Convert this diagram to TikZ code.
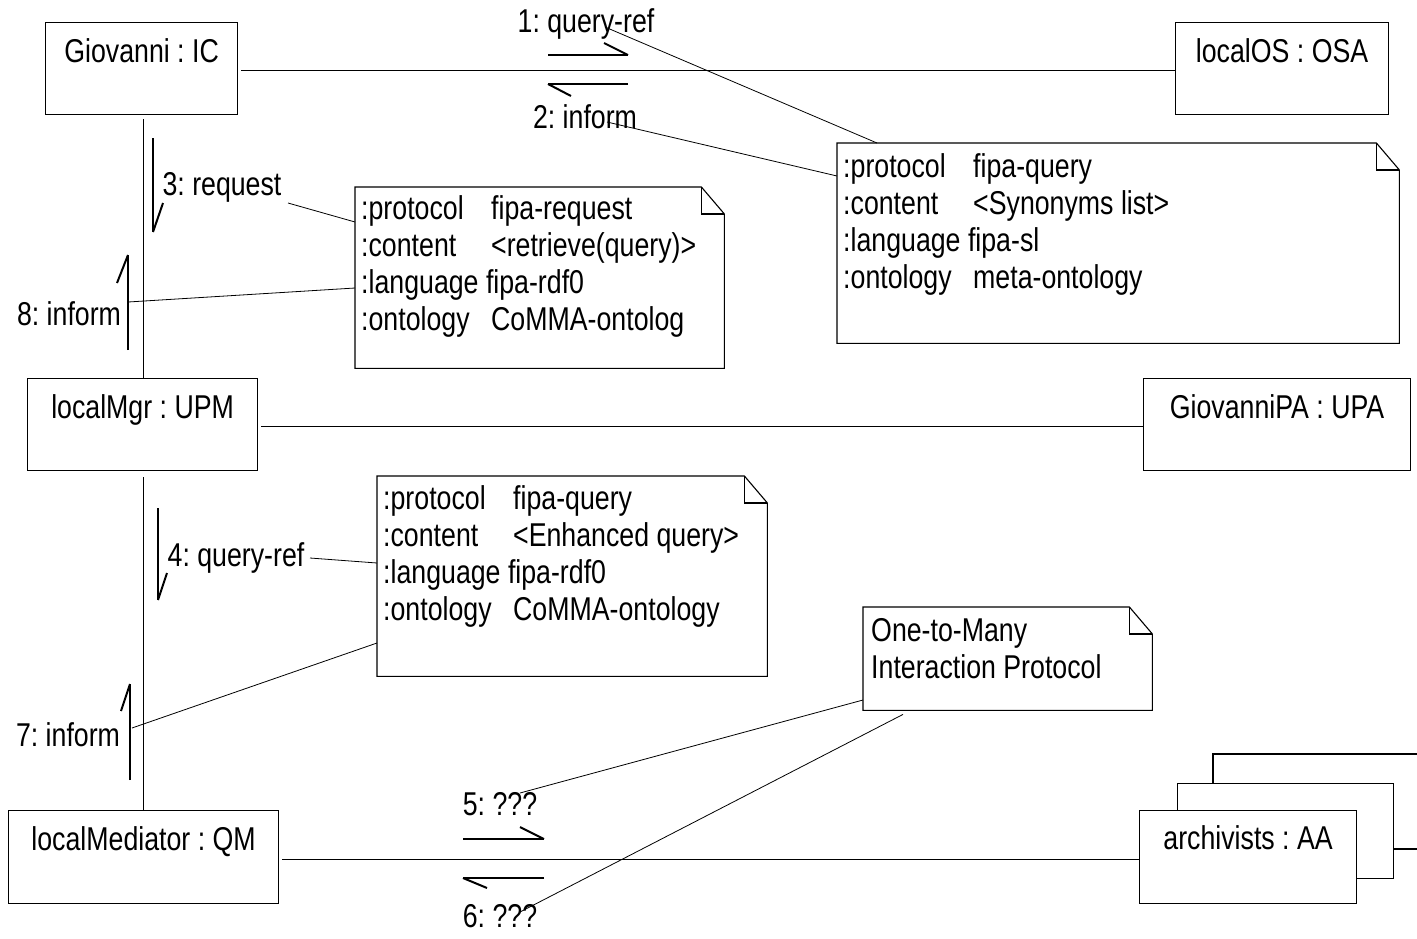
\documentclass[tikz,border=0pt]{standalone}
\usepackage{fontspec}
\setmainfont{Liberation Sans}
\usepackage{graphicx}
\frenchspacing
\newcommand{\sqz}[1]{\scalebox{0.81}[1]{#1}}
\newcommand{\ntl}[2]{\makebox[160.5pt][l]{#1}#2}
\newcommand{\drawnote}[1]{%
  \draw[notel] (#1.north west) -- ([xshift=-23pt]#1.north east) -- ([yshift=-27pt]#1.north east) -- (#1.south east) -- (#1.south west) -- cycle;
  \draw[notel] ([xshift=-23pt]#1.north east) |- ([yshift=-27pt]#1.north east);}
\begin{document}
\frenchspacing
\begin{tikzpicture}[x=1pt,y=-1pt,
  objbox/.style={draw, line width=1.2pt, fill=white, inner sep=0pt, anchor=north west},
  notebody/.style={inner sep=0pt, anchor=north west},
  notel/.style={line width=1.1pt},
  txt/.style={inner sep=0pt, font=\fontsize{33}{37}\selectfont\frenchspacing},
  link/.style={line width=1.2pt},
  thinl/.style={line width=0.8pt},
  msg/.style={line width=1.3pt},
  barb/.style={line width=2pt}]
\useasboundingbox (0,0) rectangle (1417,938);

% objects
\node[objbox, minimum width=192pt, minimum height=92pt] (gio) at (45,22) {};
\node[txt, anchor=base] (giot) at ([yshift=-40pt]gio.north) {\sqz{Giovanni : IC}};
\node[objbox, minimum width=213pt, minimum height=92pt] (los) at (1175,22) {};
\node[txt, anchor=base] (lost) at ([yshift=-40pt]los.north) {\sqz{localOS : OSA}};
\node[objbox, minimum width=230pt, minimum height=92pt] (mgr) at (27,378) {};
\node[txt, anchor=base] (mgrt) at ([yshift=-40pt]mgr.north) {\sqz{localMgr : UPM}};
\node[objbox, minimum width=267pt, minimum height=92pt] (gpa) at (1143,378) {};
\node[txt, anchor=base] (gpat) at ([yshift=-40pt]gpa.north) {\sqz{GiovanniPA : UPA}};
\node[objbox, minimum width=270pt, minimum height=93pt] (med) at (8,810) {};
\node[txt, anchor=base] (medt) at ([yshift=-40pt]med.north) {\sqz{localMediator : QM}};
\filldraw[fill=white, line width=1.2pt] (1417,754) -- (1213,754) -- (1213,849) -- (1417,849);
\node[objbox, minimum width=216pt, minimum height=95pt] (arch2) at (1177,783) {};
\node[objbox, minimum width=217pt, minimum height=93pt] (arch) at (1139,810) {};
\node[txt, anchor=base] (archt) at ([yshift=-39pt]arch.north) {\sqz{archivists : AA}};

% links
\draw[link, shorten <=3pt] ([yshift=-2pt]gio.east) -- ([yshift=-2pt]los.west);
\draw[link, shorten <=4pt] ([xshift=2pt]gio.south) -- ([xshift=2pt]gio.south |- mgr.north);
\draw[link, shorten <=3pt] ([yshift=-2pt]mgr.east) -- ([yshift=-2pt]mgr.east -| gpa.west);
\draw[link, shorten <=6pt] ([xshift=1pt]mgr.south) -- ([xshift=1pt]mgr.south |- med.north);
\draw[link, shorten <=3pt] ([yshift=-2pt]med.east) -- ([yshift=-2pt]med.east -| arch.west);

% notes
\node[notebody, minimum width=562pt, minimum height=200pt] (n1) at (837,143) {};
\drawnote{n1}
\node[txt, anchor=base west] (n1t) at (843,177) {\sqz{\begin{tabular}[t]{@{}l@{}}\ntl{:protocol}{fipa-query}\\ \ntl{:content}{<Synonyms list>}\\ :language fipa-sl\\ \ntl{:ontology}{meta-ontology}\end{tabular}}};

\node[notebody, minimum width=369pt, minimum height=181pt] (n2) at (355,187) {};
\drawnote{n2}
\node[txt, anchor=base west] (n2t) at (361,219) {\sqz{\begin{tabular}[t]{@{}l@{}}\ntl{:protocol}{fipa-request}\\ \ntl{:content}{<retrieve(query)>}\\ :language fipa-rdf0\\ \ntl{:ontology}{CoMMA-ontolog}\end{tabular}}};

\node[notebody, minimum width=390pt, minimum height=200pt] (n3) at (377,476) {};
\drawnote{n3}
\node[txt, anchor=base west] (n3t) at (383,509) {\sqz{\begin{tabular}[t]{@{}l@{}}\ntl{:protocol}{fipa-query}\\ \ntl{:content}{<Enhanced query>}\\ :language fipa-rdf0\\ \ntl{:ontology}{CoMMA-ontology}\end{tabular}}};

\node[notebody, minimum width=289pt, minimum height=103pt] (n4) at (863,607) {};
\drawnote{n4}
\node[txt, anchor=base west] (n4t) at (871,641) {\sqz{\begin{tabular}[t]{@{}l@{}}One-to-Many\\ Interaction Protocol\end{tabular}}};

% message labels
\node[txt, anchor=base] (l1) at (586,32) {\sqz{1: query-ref}};
\node[txt, anchor=base] (l2) at (585,128) {\sqz{2: inform}};
\node[txt, anchor=base] (l3) at (222,195) {\sqz{3: request}};
\node[txt, anchor=base] (l8) at (69,325) {\sqz{8: inform}};
\node[txt, anchor=base] (l4) at (236,566) {\sqz{4: query-ref}};
\node[txt, anchor=base] (l7) at (68,746) {\sqz{7: inform}};
\node[txt, anchor=base] (l5) at (500,815) {\sqz{5: ???}};
\node[txt, anchor=base] (l6) at (500,927) {\sqz{6: ???}};

% message arrows
\coordinate (m1a) at (548,55); \coordinate (m1b) at (628,55);
\draw[msg] (m1a) -- (m1b); \draw[barb] (m1b) -- ++(-24,-12);
\coordinate (m2a) at (628,84); \coordinate (m2b) at (548,84);
\draw[msg] (m2a) -- (m2b); \draw[barb] (m2b) -- ++(23,12);
\coordinate (m3a) at (153,138); \coordinate (m3b) at (153,232);
\draw[msg] (m3a) -- (m3b); \draw[barb] (m3b) -- ++(10,-29);
\coordinate (m8a) at (128,350); \coordinate (m8b) at (128,255);
\draw[msg] (m8a) -- (m8b); \draw[barb] (m8b) -- ++(-11,28);
\coordinate (m4a) at (158,508); \coordinate (m4b) at (158,600);
\draw[msg] (m4a) -- (m4b); \draw[barb] (m4b) -- ++(9,-27);
\coordinate (m7a) at (130,780); \coordinate (m7b) at (130,684);
\draw[msg] (m7a) -- (m7b); \draw[barb] (m7b) -- ++(-9,27);
\coordinate (m5a) at (463,839); \coordinate (m5b) at (544,839);
\draw[msg] (m5a) -- (m5b); \draw[barb] (m5b) -- ++(-24,-12);
\coordinate (m6a) at (544,878); \coordinate (m6b) at (463,878);
\draw[msg] (m6a) -- (m6b); \draw[barb] (m6b) -- ++(24,10);

% note attachments
\coordinate (c1) at (605,27);
\coordinate (c2) at (607,122);
\coordinate (c3) at (288,203);
\coordinate (c8) at (128,302);
\coordinate (c4) at (310,558);
\coordinate (c7) at (132,728);
\coordinate (c5) at (520,793);
\coordinate (c6) at (520,912);
\draw[thinl] (c1) -- ([xshift=40pt]n1.north west);
\draw[thinl] (c2) -- ([yshift=-33pt]n1.north west);
\draw[thinl] (c3) -- ([yshift=-35pt]n2.north west);
\draw[thinl] (c8) -- ([yshift=-101pt]n2.north west);
\draw[thinl] (c4) -- ([yshift=-87pt]n3.north west);
\draw[thinl] (c7) -- ([yshift=-167pt]n3.north west);
\draw[thinl] (c5) -- ([yshift=-93pt]n4.north west);
\draw[thinl] (c6) -- ([xshift=40pt,yshift=-4pt]n4.south west);
\end{tikzpicture}
\end{document}
